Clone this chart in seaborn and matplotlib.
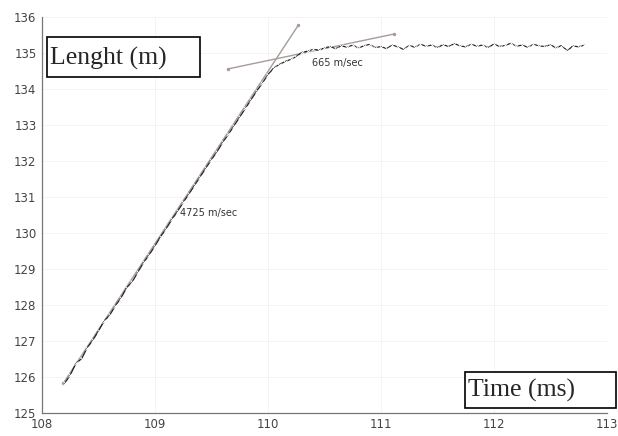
import matplotlib
matplotlib.use("Agg")
import matplotlib.pyplot as plt
from matplotlib.patches import Rectangle
from matplotlib.ticker import MultipleLocator
import pandas as pd
import seaborn as sns

time_ms = [
    108.20, 108.25, 108.30, 108.35, 108.40, 108.45, 108.50, 108.55, 108.60, 108.65,
    108.70, 108.75, 108.80, 108.85, 108.90, 108.95, 109.00, 109.05, 109.10, 109.15,
    109.20, 109.25, 109.30, 109.35, 109.40, 109.45, 109.50, 109.55, 109.60, 109.65,
    109.70, 109.75, 109.80, 109.85, 109.90, 109.95, 110.00, 110.05, 110.10, 110.15,
    110.20, 110.25, 110.30, 110.35, 110.40, 110.45, 110.50, 110.55, 110.60, 110.65,
    110.70, 110.75, 110.80, 110.85, 110.90, 110.95, 111.00, 111.05, 111.10, 111.15,
    111.20, 111.25, 111.30, 111.35, 111.40, 111.45, 111.50, 111.55, 111.60, 111.65,
    111.70, 111.75, 111.80, 111.85, 111.90, 111.95, 112.00, 112.05, 112.10, 112.15,
    112.20, 112.25, 112.30, 112.35, 112.40, 112.45, 112.50, 112.55, 112.60, 112.65,
    112.70, 112.75, 112.80,
]
length_m = [
    125.82, 126.05, 126.38, 126.50, 126.81, 127.02, 127.28, 127.55, 127.72, 127.98,
    128.20, 128.48, 128.65, 128.92, 129.18, 129.40, 129.64, 129.90, 130.12, 130.38,
    130.60, 130.85, 131.08, 131.32, 131.56, 131.80, 132.04, 132.26, 132.52, 132.74,
    132.98, 133.22, 133.46, 133.70, 133.94, 134.16, 134.40, 134.58, 134.68, 134.76,
    134.82, 134.90, 135.02, 135.05, 135.10, 135.08, 135.14, 135.18, 135.12, 135.20,
    135.16, 135.22, 135.14, 135.20, 135.24, 135.15, 135.18, 135.12, 135.22, 135.17,
    135.10, 135.21, 135.16, 135.24, 135.19, 135.22, 135.15, 135.23, 135.18, 135.26,
    135.20, 135.17, 135.24, 135.19, 135.22, 135.15, 135.25, 135.18, 135.21, 135.27,
    135.19, 135.22, 135.16, 135.24, 135.20, 135.18, 135.23, 135.14, 135.21, 135.06,
    135.20, 135.17, 135.22,
]

# fitted tangent lines (end points)
fast_t = [108.19, 110.27]
fast_l = [125.83, 135.78]
slow_t = [109.65, 111.12]
slow_l = [134.56, 135.53]

trace = pd.DataFrame({"t": time_ms, "l": length_m})
fits = pd.DataFrame({
    "t": fast_t + slow_t,
    "l": fast_l + slow_l,
    "fit": ["fast", "fast", "slow", "slow"],
})

sns.set_style("white")
plt.rcParams["font.family"] = ["DejaVu Sans"]

fig = plt.figure(figsize=(6.18, 4.36), dpi=100)
ax = fig.add_axes([0.068, 0.053, 0.914, 0.908])

sns.lineplot(data=fits, x="t", y="l", units="fit", estimator=None,
             color="#a89a9a", linewidth=1.0, marker="o", markersize=2.5,
             markeredgewidth=0, ax=ax, legend=False)
sns.lineplot(data=trace, x="t", y="l", color="#222222", linewidth=0.9,
             marker="x", markersize=2.5, markeredgewidth=0.6, ax=ax,
             sort=False, legend=False)

ax.set_xlim(108, 113)
ax.set_ylim(125, 136)
ax.xaxis.set_major_locator(MultipleLocator(1))
ax.xaxis.set_minor_locator(MultipleLocator(0.2))
ax.yaxis.set_major_locator(MultipleLocator(1))
ax.yaxis.set_minor_locator(MultipleLocator(0.2))
ax.tick_params(axis="both", which="major", direction="out", length=3,
               width=0.8, color="#666666", labelsize=8.5, labelcolor="#444444", pad=1)
ax.tick_params(axis="both", which="minor", direction="out", length=1.5,
               width=0.6, color="#888888")
ax.set_xlabel("")
ax.set_ylabel("")
for side in ("top", "right"):
    ax.spines[side].set_visible(False)
for side in ("left", "bottom"):
    ax.spines[side].set_color("#777777")
    ax.spines[side].set_linewidth(0.9)

ax.grid(True, which="major", color="#f2f2f2", linewidth=0.6)
ax.set_axisbelow(True)

ax.text(109.22, 130.56, "4725 m/sec", fontsize=7, color="#333333",
        ha="left", va="center")
ax.text(110.39, 134.72, "665 m/sec", fontsize=7, color="#333333",
        ha="left", va="center")

W, H = 618, 436
for (x0, y0, x1, y1) in [(47, 37, 200, 77), (465, 372, 616, 408)]:
    fig.add_artist(Rectangle((x0 / W, 1 - y1 / H), (x1 - x0) / W, (y1 - y0) / H,
                             transform=fig.transFigure, facecolor="white",
                             edgecolor="black", linewidth=1.2, zorder=5))
fig.text(50 / W, 1 - 58 / H, "Lenght (m)", family="Liberation Serif",
         fontsize=18.5, ha="left", va="center", zorder=6)
fig.text(468 / W, 1 - 390 / H, "Time (ms)", family="Liberation Serif",
         fontsize=18.5, ha="left", va="center", zorder=6)

fig.savefig("out.png", dpi=100, facecolor="white")
